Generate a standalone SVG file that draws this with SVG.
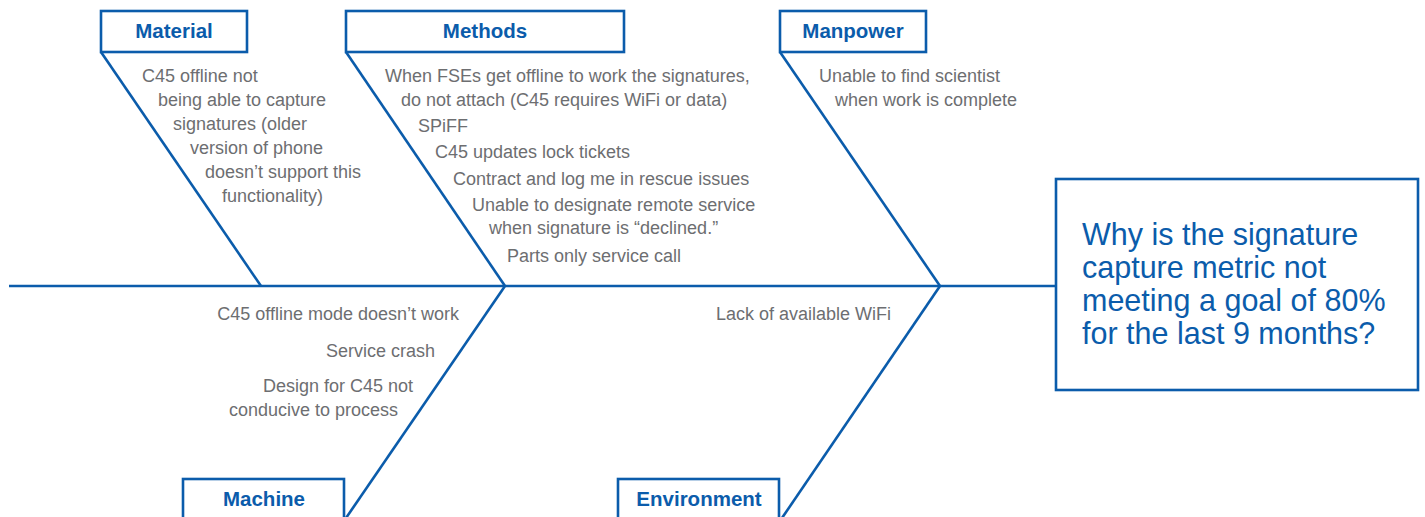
<svg xmlns="http://www.w3.org/2000/svg" width="1425" height="517" viewBox="0 0 1425 517">
  <style>
    .box { fill: #ffffff; stroke: #0b5cab; stroke-width: 2.6; }
    .bone { fill: none; stroke: #0b5cab; stroke-width: 2.6; stroke-linecap: butt; }
    .cat { font-family: "Liberation Sans", Arial, sans-serif; font-weight: bold; font-size: 20.5px; fill: #0b5cab; text-anchor: middle; }
    .item { font-family: "Liberation Sans", Arial, sans-serif; font-size: 18px; fill: #6d6e71; }
    .end { text-anchor: end; }
    .effect { font-family: "Liberation Sans", Arial, sans-serif; font-size: 30.5px; fill: #0b5cab; }
  </style>

  <!-- spine and category bones -->
  <g id="connectors">
    <line class="bone" x1="9" y1="286" x2="1056" y2="286"/>
    <line class="bone" x1="101" y1="52" x2="261" y2="286"/>
    <line class="bone" x1="346" y1="52" x2="505" y2="286"/>
    <line class="bone" x1="780" y1="52" x2="940" y2="286"/>
    <line class="bone" x1="346" y1="518" x2="505" y2="286"/>
    <line class="bone" x1="782" y1="518" x2="940" y2="286"/>
  </g>

  <!-- Material -->
  <g id="material">
    <rect class="box" x="101" y="11" width="146" height="41"/>
    <text class="cat" x="174" y="38">Material</text>
    <text class="item" x="142" y="82">C45 offline not</text>
    <text class="item" x="158" y="106">being able to capture</text>
    <text class="item" x="173" y="130">signatures (older</text>
    <text class="item" x="190" y="154">version of phone</text>
    <text class="item" x="205" y="178">doesn’t support this</text>
    <text class="item" x="222" y="202">functionality)</text>
  </g>

  <!-- Methods -->
  <g id="methods">
    <rect class="box" x="346" y="11" width="278" height="41"/>
    <text class="cat" x="485" y="38">Methods</text>
    <text class="item" x="385" y="82">When FSEs get offline to work the signatures,</text>
    <text class="item" x="401" y="106">do not attach (C45 requires WiFi or data)</text>
    <text class="item" x="418" y="132">SPiFF</text>
    <text class="item" x="435" y="158">C45 updates lock tickets</text>
    <text class="item" x="453" y="185">Contract and log me in rescue issues</text>
    <text class="item" x="472" y="211">Unable to designate remote service</text>
    <text class="item" x="489" y="234">when signature is “declined.”</text>
    <text class="item" x="507" y="262">Parts only service call</text>
  </g>

  <!-- Manpower -->
  <g id="manpower">
    <rect class="box" x="780" y="11" width="146" height="41"/>
    <text class="cat" x="853" y="38">Manpower</text>
    <text class="item" x="819" y="82">Unable to find scientist</text>
    <text class="item" x="835" y="106">when work is complete</text>
  </g>

  <!-- Machine -->
  <g id="machine">
    <rect class="box" x="183" y="479" width="161" height="44"/>
    <text class="cat" x="264" y="506">Machine</text>
    <text class="item end" x="459" y="320">C45 offline mode doesn’t work</text>
    <text class="item end" x="435" y="357">Service crash</text>
    <text class="item end" x="413" y="392">Design for C45 not</text>
    <text class="item end" x="398" y="416">conducive to process</text>
  </g>

  <!-- Environment -->
  <g id="environment">
    <rect class="box" x="618" y="479" width="161" height="44"/>
    <text class="cat" x="699" y="506">Environment</text>
    <text class="item end" x="891" y="320">Lack of available WiFi</text>
  </g>

  <!-- Effect -->
  <g id="effect">
    <rect class="box" x="1056" y="179" width="362" height="211"/>
    <text class="effect" x="1082" y="245">Why is the signature</text>
    <text class="effect" x="1082" y="278">capture metric not</text>
    <text class="effect" x="1082" y="311">meeting a goal of 80%</text>
    <text class="effect" x="1082" y="344">for the last 9 months?</text>
  </g>
</svg>
